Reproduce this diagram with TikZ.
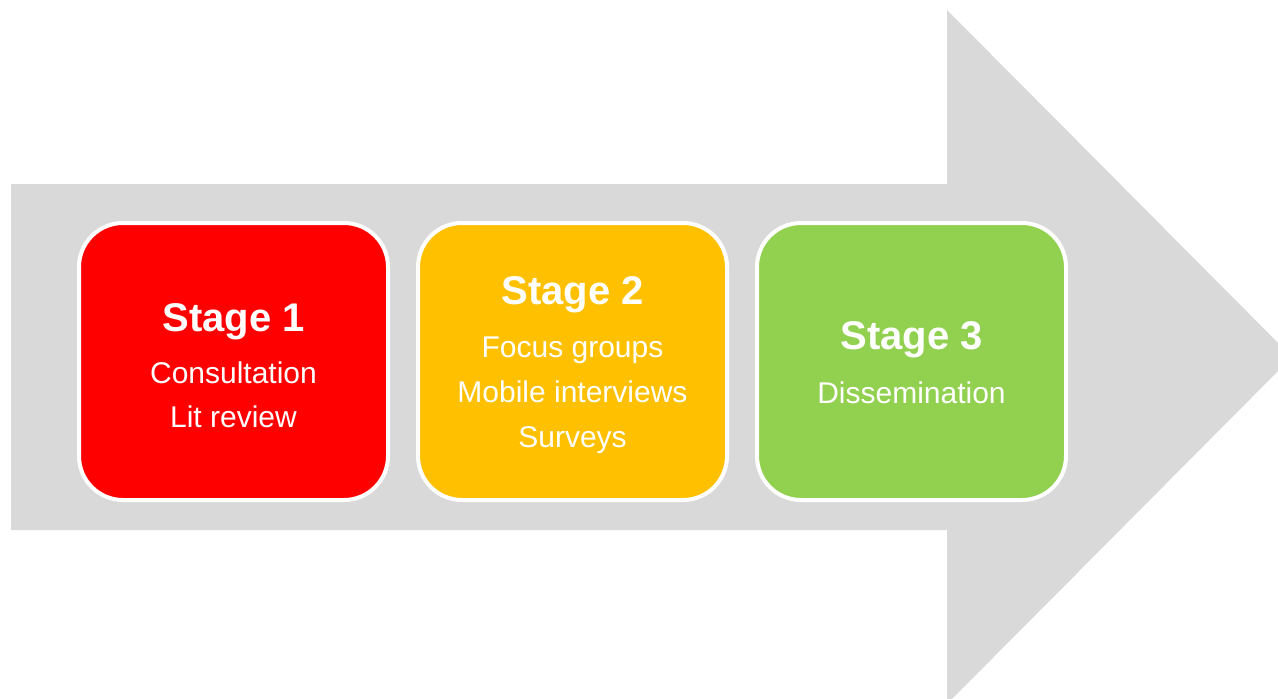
\documentclass[tikz,border=0pt]{standalone}
\usepackage{fontspec}
\setmainfont{Liberation Sans}
\definecolor{arrowgray}{HTML}{D9D9D9}
\definecolor{s1red}{HTML}{FF0000}
\definecolor{s2yellow}{HTML}{FFC000}
\definecolor{s3green}{HTML}{92D050}
\begin{document}
\begin{tikzpicture}[x=1pt,y=-1pt,
  stagebox/.style={draw=white,line width=4pt,rounded corners=44pt,minimum width=309pt,minimum height=277pt,inner sep=0pt},
  titletxt/.style={anchor=base,text=white,font=\fontsize{40}{48}\selectfont\bfseries,inner sep=0pt},
  bodytxt/.style={anchor=base,text=white,font=\fontsize{30}{36}\selectfont,inner sep=0pt}]
\useasboundingbox[fill=white] (0,0) rectangle (1278,699);
\clip (0,0) rectangle (1278,699);
\fill[arrowgray] (11,184) -- (947,184) -- (947,10) -- (1292,357) -- (947,704) -- (947,530) -- (11,530) -- cycle;
\node[stagebox,fill=s1red] (s1) at (233.5,361.5) {};
\node[stagebox,fill=s2yellow] (s2) at (572.5,361.5) {};
\node[stagebox,fill=s3green] (s3) at (911.5,361.5) {};
\node[titletxt] (t1) at (233.5,331) {Stage 1};
\node[bodytxt] (b1a) at (233.5,383) {Consultation};
\node[bodytxt] (b1b) at (233.5,427) {Lit review};
\node[titletxt] (t2) at (572.5,304) {Stage 2};
\node[bodytxt] (b2a) at (572.5,357) {Focus groups};
\node[bodytxt] (b2b) at (572.5,402) {Mobile interviews};
\node[bodytxt] (b2c) at (572.5,447) {Surveys};
\node[titletxt] (t3) at (911.5,349) {Stage 3};
\node[bodytxt] (b3a) at (911.5,403) {Dissemination};
\end{tikzpicture}
\end{document}
